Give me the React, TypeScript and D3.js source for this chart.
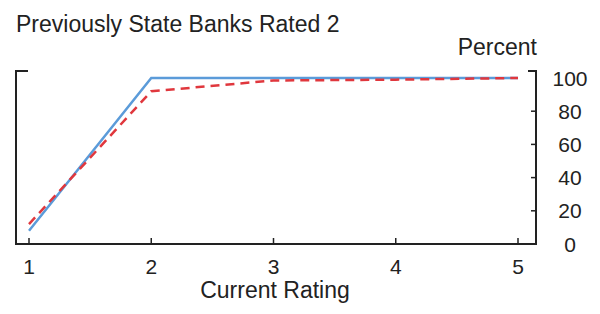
import React from "react";
import * as d3 from "d3";

const ratings = [1, 2, 3, 4, 5];
const solidSeries = [8, 100, 100, 100, 100];
const dashedSeries = [12, 92, 98.5, 99, 100];
const yTicks = [0, 20, 40, 60, 80, 100];
const xTicks = [1, 2, 3, 4, 5];

const W = 600;
const H = 314;
const font = "Liberation Sans, Arial, sans-serif";

export default function App() {
  const x = d3.scaleLinear().domain([1, 5]).range([29, 518]);
  const y = d3.scaleLinear().domain([0, 100]).range([244, 78]);
  const left = 16;
  const right = 536;
  const top = 71;
  const bottom = y(0);

  const line = d3
    .line<number>()
    .x((_, i) => x(ratings[i]))
    .y((d) => y(d));

  return (
    <div style={{ position: "fixed", left: 0, top: 0, margin: 0 }}>
      <svg width={W} height={H} style={{ display: "block", background: "#fff" }}>
        <text x={16} y={32} fontFamily={font} fontSize={23} fill="#222">
          Previously State Banks Rated 2
        </text>
        <text x={537} y={55} fontFamily={font} fontSize={23} fill="#222" textAnchor="end">
          Percent
        </text>
        {/* frame */}
        <path
          d={`M${left + 12},${top}H${left}V${bottom}H${right}V${top}H${right - 8}`}
          fill="none"
          stroke="#222"
          strokeWidth={2}
        />
        {yTicks.slice(1, -1).map((t) => (
          <line key={t} x1={right - 5} x2={right} y1={y(t)} y2={y(t)} stroke="#222" strokeWidth={1.5} />
        ))}
        {xTicks.map((t) => (
          <line key={t} x1={x(t)} x2={x(t)} y1={bottom} y2={bottom - 6} stroke="#222" strokeWidth={1.5} />
        ))}
        {yTicks.map((t) => (
          <text key={t} x={570} y={y(t) + 7.5} fontFamily={font} fontSize={21} fill="#222" textAnchor="middle">
            {t}
          </text>
        ))}
        {xTicks.map((t) => (
          <text key={t} x={x(t)} y={274} fontFamily={font} fontSize={21} fill="#222" textAnchor="middle">
            {t}
          </text>
        ))}
        <text x={275} y={298} fontFamily={font} fontSize={23} fill="#222" textAnchor="middle">
          Current Rating
        </text>
        <path d={line(solidSeries) || ""} fill="none" stroke="#5b9bd9" strokeWidth={2.5} />
        <path
          d={line(dashedSeries) || ""}
          fill="none"
          stroke="#e0373d"
          strokeWidth={2.5}
          strokeDasharray="9,6"
        />
      </svg>
    </div>
  );
}
